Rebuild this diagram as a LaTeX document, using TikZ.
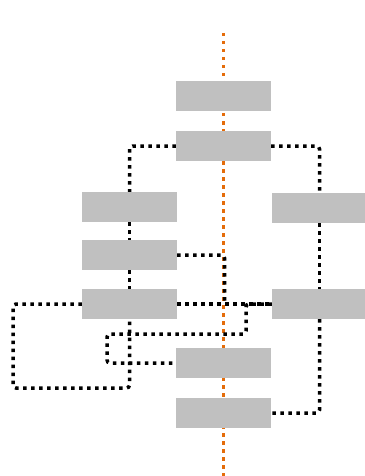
\documentclass[tikz,border=0pt]{standalone}
\usetikzlibrary{calc}
\definecolor{boxgray}{RGB}{192,192,192}
\definecolor{axisorange}{RGB}{228,108,10}
\tikzset{
  box/.style={fill=boxgray,minimum width=95pt,minimum height=30pt,inner sep=0pt},
  link/.style={line width=3.5pt,dash pattern=on 3.5pt off 4.5pt,rounded corners=3pt},
  axis/.style={axisorange,line width=3.5pt,dash pattern=on 3.5pt off 4.5pt}
}
\begin{document}
\begin{tikzpicture}[x=1pt,y=-1pt]
\useasboundingbox (0,0) rectangle (364,476);
\draw[axis] (223.5,33) -- (223.5,476);
\node[box] (top) at (223.5,96) {};
\node[box] (split) at (223.5,146) {};
\node[box] (left1) at (129.5,207) {};
\node[box] (left2) at (129.5,255) {};
\node[box] (left3) at (129.5,304) {};
\node[box] (right1) at (319.5,208) {};
\node[box] (right2) at (319.5,304) {};
\node[box] (low1) at (223.5,363) {};
\node[box] (low2) at (223.5,413) {};
\draw[link] (split.west) -| (left1.north);
\draw[link] (split.east) -| (right1.north);
\draw[link] (left1) -- (left2);
\draw[link] (left2) -- (left3);
\draw[link] (left2.east) -| ($(left3.east)!0.5!(right2.west)$);
\draw[link] (left3.east) -- (right2.west);
\draw[link] (right2.west) -| (246,334) -| (107,363) -- (low1.west);
\draw[link] (left3.west) -| (13,388) -| (left3.south);
\draw[link] (right1) -- (right2);
\draw[link] (right2.south) |- (low2.east);
\end{tikzpicture}
\end{document}
